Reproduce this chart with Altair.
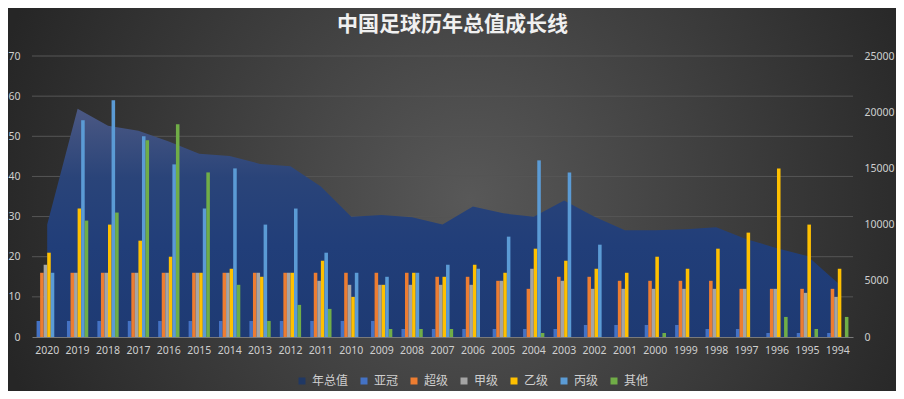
import altair as alt
import pandas as pd

years = ["2020", "2019", "2018", "2017", "2016", "2015", "2014", "2013", "2012",
         "2011", "2010", "2009", "2008", "2007", "2006", "2005", "2004", "2003",
         "2002", "2001", "2000", "1999", "1998", "1997", "1996", "1995", "1994"]
total = [10000, 20300, 18800, 18350, 17400, 16300, 16100, 15400, 15200,
         13400, 10700, 10850, 10650, 10000, 11600, 11000, 10700, 12150,
         10700, 9500, 9500, 9580, 9760, 8700, 7900, 7200, 4800]
yaguan = [4, 4, 4, 4, 4, 4, 4, 4, 4, 4, 4, 4, 2, 2, 2, 2, 2, 2, 3, 3, 3, 3, 2, 2, 1, 1, 1]
chaoji = [16, 16, 16, 16, 16, 16, 16, 16, 16, 16, 16, 16, 16, 15, 15, 14, 12, 15, 15, 14, 14, 14, 14, 12, 12, 12, 12]
jiaji = [18, 16, 16, 16, 16, 16, 16, 16, 16, 14, 13, 13, 13, 13, 13, 14, 17, 14, 12, 12, 12, 12, 12, 12, 12, 11, 10]
yiji = [21, 32, 28, 24, 20, 16, 17, 15, 16, 19, 10, 13, 16, 15, 18, 16, 22, 19, 17, 16, 20, 17, 22, 26, 42, 28, 17]
bingji = [16, 54, 59, 50, 43, 32, 42, 28, 32, 21, 16, 15, 16, 18, 17, 25, 44, 41, 23, 0, 0, 0, 0, 0, 0, 0, 0]
qita = [0, 29, 31, 49, 53, 41, 13, 4, 8, 7, 0, 2, 2, 2, 0, 0, 1, 0, 0, 0, 1, 0, 0, 0, 5, 2, 5]

series_names = ["亚冠", "超级", "甲级", "乙级", "丙级", "其他"]
series_colors = ["#4472c4", "#ed7d31", "#a5a5a5", "#ffc000", "#5b9bd5", "#70ad47"]
total_name = "年总值"
total_color = "#203864"
left_ticks = [0, 10, 20, 30, 40, 50, 60, 70]
right_ticks = [0, 5000, 10000, 15000, 20000, 25000]
title_text = "中国足球历年总值成长线"

W, H = 821, 281
PAD = {"left": 24, "top": 48, "right": 43, "bottom": 54}

rows = []
for i, yr in enumerate(years):
    for name, vals in zip(series_names, [yaguan, chaoji, jiaji, yiji, bingji, qita]):
        rows.append({"year": yr, "series": name, "value": vals[i]})
bars_df = pd.DataFrame(rows)
total_df = pd.DataFrame({"year": years, "total": total})
grid_df = pd.DataFrame({"v": left_ticks[1:]})
one_df = pd.DataFrame({"a": [0]})

label_color = "#cfcfcf"

x_axis = alt.Axis(title=None, labelAngle=0, labelColor=label_color, labelFontSize=10.5,
                  labelFont="Noto Sans", ticks=False, domainColor="#7a7a7a", domainWidth=1,
                  labelPadding=8, grid=False, zindex=1)
x_scale = alt.Scale(paddingInner=0.3, paddingOuter=0.15)

bg = alt.Chart(one_df).mark_rect(
    fill=alt.RadialGradient(
        gradient="radial",
        stops=[alt.GradientStop(color="#585858", offset=0),
               alt.GradientStop(color="#262626", offset=1)],
        x1=0.52, y1=0.5, r1=0, x2=0.52, y2=0.5, r2=0.55),
).encode(
    x=alt.value(-PAD["left"]), x2=alt.value(W + PAD["right"]),
    y=alt.value(-PAD["top"] - 200), y2=alt.value(H + PAD["bottom"] + 200),
)

grid = alt.Chart(grid_df).mark_rule(color="#565656", strokeWidth=1).encode(
    y=alt.Y("v:Q", scale=alt.Scale(domain=[0, 70], nice=False), axis=None)
)

area = alt.Chart(total_df).mark_area(
    fill=alt.LinearGradient(
        gradient="linear",
        stops=[alt.GradientStop(color="#4b5883", offset=0),
               alt.GradientStop(color="#2a4479", offset=0.3),
               alt.GradientStop(color="#213e79", offset=0.6),
               alt.GradientStop(color="#1e3a73", offset=1)],
        x1=0, y1=0, x2=0, y2=1),
).encode(
    x=alt.X("year:N", sort=years, scale=x_scale, axis=x_axis, bandPosition=0.5),
    y=alt.Y("total:Q", scale=alt.Scale(domain=[0, 25000], nice=False),
            axis=alt.Axis(orient="right", title=None, values=right_ticks, ticks=False,
                          domain=False, grid=False, labelColor=label_color, format="d",
                          labelFontSize=10.5, labelFont="Noto Sans", labelPadding=11,
                          zindex=1)),
)

bars = alt.Chart(bars_df).mark_bar().encode(
    x=alt.X("year:N", sort=years, scale=x_scale, axis=x_axis),
    xOffset=alt.XOffset("series:N", sort=series_names,
                        scale=alt.Scale(domain=series_names, paddingInner=0, paddingOuter=0)),
    y=alt.Y("value:Q", scale=alt.Scale(domain=[0, 70], nice=False),
            axis=alt.Axis(orient="left", title=None, values=left_ticks, ticks=False,
                          domain=False, grid=False, labelColor=label_color, format="d",
                          labelFontSize=10.5, labelFont="Noto Sans", labelPadding=12,
                          zindex=1)),
    color=alt.Color("series:N",
                    scale=alt.Scale(domain=[total_name] + series_names,
                                    range=[total_color] + series_colors),
                    legend=alt.Legend(orient="none", legendX=264, legendY=319,
                                      direction="horizontal", title=None,
                                      symbolType="square", symbolSize=49,
                                      symbolStrokeWidth=0, labelColor=label_color,
                                      labelFont="Noto Sans CJK SC", labelFontSize=12,
                                      labelOffset=4, columnPadding=9, padding=0)),
)

title = alt.Chart(one_df).mark_text(
    text=title_text, font="Noto Sans CJK SC", fontSize=21, fontWeight="bold",
    color="#f0f0f0", align="center", baseline="middle",
).encode(x=alt.value(W / 2 + 10), y=alt.value(-31))

chart = alt.layer(bg, grid, area, bars, title).resolve_scale(
    y="independent"
).properties(
    width=W, height=H, padding=PAD,
    autosize=alt.AutoSizeParams(type="none"),
    background="#333333",
).configure_view(strokeWidth=0)

chart.save("out.html", embed_options={"renderer": "svg", "actions": False})
